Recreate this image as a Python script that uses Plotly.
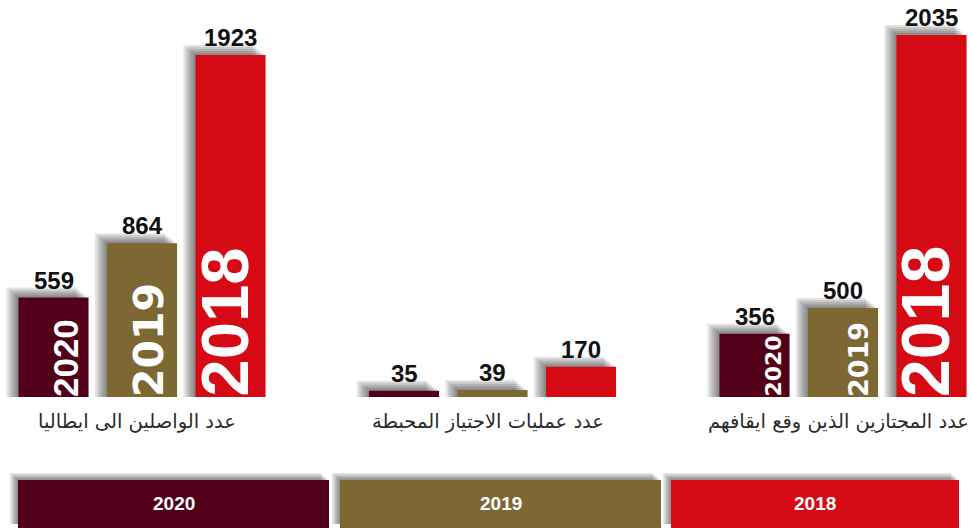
import plotly.graph_objects as go

# ---------------- data ----------------
categories = [
    "عدد الواصلين الى ايطاليا",
    "عدد عمليات الاجتياز المحبطة",
    "عدد المجتازين الذين وقع ايقافهم",
]
years = ["2020", "2019", "2018"]
values_2020 = [559, 35, 356]
values_2019 = [864, 39, 500]
values_2018 = [1923, 170, 2035]
series_values = [values_2020, values_2019, values_2018]

# ---------------- style ----------------
colors = ["#520019", "#7D6733", "#D50A14"]
W, H = 972, 528
PX_PER_X = 350.5      # pixels per category unit
X0_PX = 142           # pixel position of first category
BASE_PX = 397         # pixel position of the zero line
PX_PER_Y = 0.1779     # pixels per value unit
BAR_W = 0.2
STEP = 0.2525

x_range = [-X0_PX / PX_PER_X, (W - X0_PX) / PX_PER_X]
y_range = [-(H - BASE_PX) / PX_PER_Y, BASE_PX / PX_PER_Y]

def px_x(p):
    return p / PX_PER_X

def px_y(p):
    return p / PX_PER_Y

# font styles of the rotated year labels (series index, category index)
year_label_style = {
    (0, 0): ("Liberation Sans", 35),
    (1, 0): ("DejaVu Sans", 41),
    (2, 0): ("Liberation Sans", 67),
    (0, 2): ("DejaVu Sans", 22),
    (1, 2): ("DejaVu Sans", 27),
    (2, 2): ("Liberation Sans", 68),
}

fig = go.Figure()

xs = [[g + (j - 1) * STEP for g in range(len(categories))] for j in range(len(years))]

# soft shadows (layered translucent bars up-left of each bar)
N_SH = 5
for k in range(1, N_SH + 1):
    for j in range(len(years)):
        fig.add_trace(go.Bar(
            x=[x - px_x(2.4 * k) for x in xs[j]],
            y=[v + px_y(2.0 * k) for v in series_values[j]],
            width=BAR_W,
            marker=dict(color="rgba(0,0,0,0.11)", line=dict(width=0)),
            hoverinfo="skip",
            showlegend=False,
        ))

# main bars
for j, yr in enumerate(years):
    fig.add_trace(go.Bar(
        x=xs[j],
        y=series_values[j],
        width=BAR_W,
        name=yr,
        marker=dict(color=colors[j], line=dict(width=0)),
        showlegend=False,
    ))

annotations = []
# value labels
for j in range(len(years)):
    for g, v in enumerate(series_values[j]):
        annotations.append(dict(
            x=xs[j][g], y=v, xref="x", yref="y",
            text=str(v), showarrow=False,
            xanchor="center", yanchor="bottom", yshift=2,
            font=dict(family="Liberation Sans", size=24, color="#111111", weight="bold"),
        ))

# rotated year labels inside bars
for (j, g), (fam, size) in year_label_style.items():
    annotations.append(dict(
        x=xs[j][g] + BAR_W / 2, y=0, xref="x", yref="y",
        text=years[j], showarrow=False, textangle=-90,
        xanchor="right", yanchor="bottom", xshift=-2, yshift=-2,
        font=dict(family=fam, size=size, color="white", weight="bold"),
    ))

# category labels
for g, c in enumerate(categories):
    annotations.append(dict(
        x=g, y=0, xref="x", yref="y",
        text=c, showarrow=False,
        xanchor="center", yanchor="middle", yshift=-24, xshift=-5,
        font=dict(family="DejaVu Sans", size=19.5, color="#2a2a2a"),
    ))

# bottom legend boxes
legend_boxes_px = [(18, 329), (340, 661), (671, 959)]
box_top_px, box_bot_px = 480, 530
shapes = []
for i, (x0, x1) in enumerate(legend_boxes_px):
    for k in range(1, N_SH + 1):
        shapes.append(dict(
            type="rect", xref="paper", yref="paper",
            x0=(x0 - 1.6 * k) / W, x1=(x1 - 1.6 * k) / W,
            y0=1 - (box_bot_px - 6) / H, y1=1 - (box_top_px - 1.4 * k) / H,
            fillcolor="rgba(0,0,0,0.10)", line=dict(width=0), layer="below",
        ))
for i, (x0, x1) in enumerate(legend_boxes_px):
    shapes.append(dict(
        type="rect", xref="paper", yref="paper",
        x0=x0 / W, x1=x1 / W,
        y0=1 - box_bot_px / H, y1=1 - box_top_px / H,
        fillcolor=colors[i], line=dict(width=0), layer="above",
    ))
    annotations.append(dict(
        x=(x0 + x1) / 2 / W, y=1 - 503 / H, xref="paper", yref="paper",
        text=years[i], showarrow=False,
        xanchor="center", yanchor="middle",
        font=dict(family="Liberation Sans", size=19, color="white", weight="bold"),
    ))

fig.update_layout(
    width=W, height=H,
    margin=dict(l=0, r=0, t=0, b=0),
    paper_bgcolor="white", plot_bgcolor="white",
    barmode="overlay",
    showlegend=False,
    xaxis=dict(range=x_range, visible=False, fixedrange=True),
    yaxis=dict(range=y_range, visible=False, fixedrange=True),
    annotations=annotations,
    shapes=shapes,
)

fig.write_html(
    "out.html",
    config={"displayModeBar": False},
    post_script="document.body.style.margin='0';document.body.style.overflow='hidden';",
)
